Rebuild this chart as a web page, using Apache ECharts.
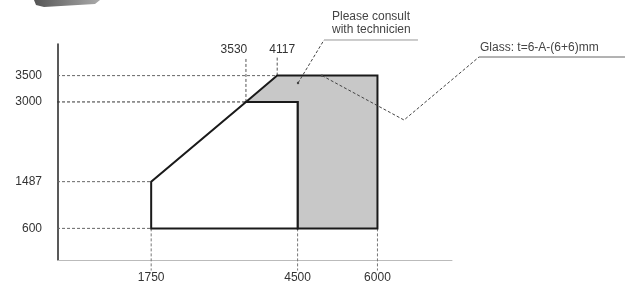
<!DOCTYPE html>
<html>
<head>
<meta charset="utf-8">
<script src="https://cdn.jsdelivr.net/npm/echarts@6/dist/echarts.min.js"></script>
<style>
  html, body { margin: 0; padding: 0; background: #fff; }
  #chart { width: 628px; height: 289px; }
</style>
</head>
<body>
<div id="chart"></div>
<script>
// Tick values shown on the axes
const xTickValues = [1750, 4500, 6000];
const yTickValues = [600, 1487, 3000, 3500];
const topTickValues = [3530, 4117];
// Where each guide meets the outline
const yGuideEnd = [1750, 1750, 3530, 4117];
const topGuideBase = [3000, 3500];
// Outline of the standard size range and of the "consult" zone
const openShapeX = [1750, 1750, 3530, 4500, 4500];
const openShapeY = [600, 1487, 3000, 3000, 600];
const consultShapeX = [3530, 4117, 6000, 6000, 4500, 4500];
const consultShapeY = [3000, 3500, 3500, 600, 600, 3000];
// Call-outs
const consultNote = ['Please consult', 'with technicien'];
const glassNote = 'Glass: t=6-A-(6+6)mm';
const consultLeaderX = [4508, 4996, 6761];
const consultLeaderY = [3360, 4176, 4176];
const glassLeaderX = [4958, 6499, 7907, 10649];
const glassLeaderY = [3500, 2657, 3853, 3853];

const FONT = '"Liberation Sans", Arial, sans-serif';
// the two top labels are pushed apart so they don't collide
const topLabelShift = [[-12, 0], [5, 0]];
const shapes = [
    { xs: consultShapeX, ys: consultShapeY, fill: '#c8c8c8' },
    { xs: openShapeX, ys: openShapeY, fill: '#ffffff' }
];
const leaders = [
    { xs: consultLeaderX, ys: consultLeaderY, under: '#999' },
    { xs: glassLeaderX, ys: glassLeaderY, under: '#666' }
];

function guide(points, color) {
    return {
        type: 'line',
        data: points,
        symbol: 'none',
        silent: true,
        clip: false,
        z: 1,
        lineStyle: { color: color || '#555', width: 1, type: [3, 2] }
    };
}

const series = [];

yTickValues.forEach(function(v, i) {
    series.push(guide([[-300, v], [yGuideEnd[i], v]], i === 2 ? '#333' : '#666'));
});
xTickValues.forEach(function(v) {
    series.push(guide([[v, 600], [v, -200]], '#777'));
});
topTickValues.forEach(function(v, i) {
    series.push(guide([[v, topGuideBase[i]], {
        value: [v, 3850],
        symbol: 'circle',
        symbolSize: 0,
        label: {
            show: true, position: 'top', distance: 1, offset: topLabelShift[i],
            formatter: String(v), fontFamily: FONT, fontSize: 12, color: '#333'
        }
    }], '#555'));
});

series.push({
    type: 'custom',
    silent: true,
    z: 3,
    data: shapes.map(function(s, i) { return [i]; }),
    renderItem: function(params, api) {
        const s = shapes[params.dataIndex];
        const pts = s.xs.map(function(x, i) { return api.coord([x, s.ys[i]]); });
        return {
            type: 'polygon',
            shape: { points: pts },
            style: { fill: s.fill, stroke: '#1a1a1a', lineWidth: 2, lineJoin: 'miter' }
        };
    }
});

// leader lines: dashed run to the note, solid underline below it
series.push({
    type: 'custom',
    silent: true,
    clip: false,
    z: 5,
    data: leaders.map(function(s, i) { return [i]; }),
    renderItem: function(params, api) {
        const s = leaders[params.dataIndex];
        const pts = s.xs.map(function(x, i) { return api.coord([x, s.ys[i]]); });
        const n = pts.length;
        return {
            type: 'group',
            children: [
                {
                    type: 'polyline',
                    shape: { points: pts.slice(0, n - 1) },
                    style: { fill: null, stroke: '#444', lineWidth: 1, lineDash: [3, 2] }
                },
                {
                    type: 'line',
                    shape: { x1: pts[n - 2][0], y1: pts[n - 2][1], x2: pts[n - 1][0], y2: pts[n - 1][1] },
                    style: { stroke: s.under, lineWidth: 1 }
                },
                {
                    type: 'circle',
                    shape: { cx: pts[0][0], cy: pts[0][1], r: 1.2 },
                    style: { fill: '#444' }
                }
            ]
        };
    }
});

const chart = echarts.init(document.getElementById('chart'), null, { renderer: 'canvas' });
chart.setOption({
    animation: false,
    backgroundColor: '#fff',
    grid: { left: 58, top: 44, width: 394, height: 216, containLabel: false },
    xAxis: {
        type: 'value', min: 0, max: 7400,
        splitLine: { show: false },
        axisTick: { show: false },
        axisLine: { show: true, lineStyle: { color: '#bbb', width: 1 } },
        axisLabel: {
            customValues: xTickValues, margin: 12, formatter: function(v) { return String(v); },
            fontFamily: FONT, fontSize: 12, color: '#333'
        }
    },
    yAxis: {
        type: 'value', min: 0, max: 4100,
        splitLine: { show: false },
        axisTick: { show: false },
        axisLine: { show: true, lineStyle: { color: '#222', width: 1.5 } },
        axisLabel: {
            customValues: yTickValues, margin: 16, formatter: function(v) { return String(v); },
            fontFamily: FONT, fontSize: 12, color: '#333'
        }
    },
    graphic: [
        {
            type: 'text', left: 332, top: 10, silent: true,
            style: {
                text: consultNote.join('\n'), fontFamily: FONT, fontSize: 12,
                lineHeight: 13, fill: '#444'
            }
        },
        {
            type: 'text', left: 480, top: 42, silent: true,
            style: { text: glassNote, fontFamily: FONT, fontSize: 12, fill: '#444' }
        },
        {
            type: 'polygon', silent: true,
            shape: { points: [[34, 0], [100, 0], [95, 4], [44, 7], [36, 5]] },
            style: {
                fill: new echarts.graphic.LinearGradient(0, 0, 1, 0, [
                    { offset: 0, color: '#555' }, { offset: 1, color: '#aaa' }
                ])
            }
        }
    ],
    series: series
});

window.addEventListener('resize', function() { chart.resize(); });
</script>
</body>
</html>
